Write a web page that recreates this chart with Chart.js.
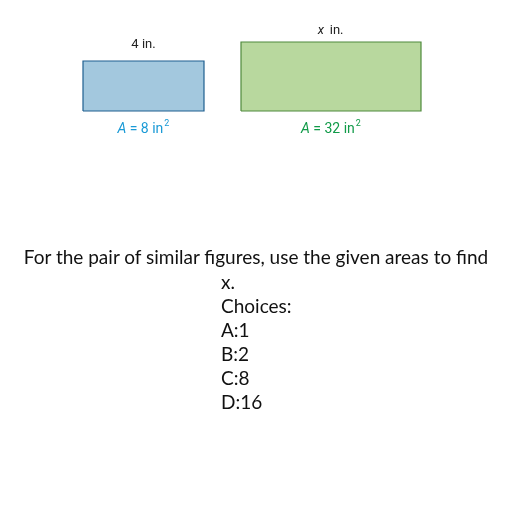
<!DOCTYPE html>
<html>
<head>
<script src="https://cdn.jsdelivr.net/npm/chart.js@4"></script>
<style>
body{margin:0;background:#fff;}
#wrap{position:absolute;left:0;top:0;width:512px;height:512px;}
.q{position:absolute;font-family:Lato,"Noto Sans",sans-serif;font-size:19px;color:#111;white-space:nowrap;}
</style>
</head>
<body>
<div id="wrap"><canvas id="fig" width="512" height="512"></canvas></div>
<div class="q" style="left:0;width:512px;text-align:center;top:245px">For the pair of similar figures, use the given areas to find</div>
<div class="q" style="left:221px;top:270px;line-height:24px">x.<br>Choices:<br>A:1<br>B:2<br>C:8<br>D:16</div>
<script>
// rectangles, in page units
const rectLeft = [83, 241];
const rectWidth = [121, 180];
const rectBottom = [111, 111];
const rectHeight = [50, 69];
const fills = ["#a3c8de", "#b8d89e"];
const strokes = ["#1f5f8f", "#4f8a3c"];
const topLabels = ["4 in.", "x in."];
const areaLabels = ["A = 8 in", "A = 32 in"];
const areaColors = ["#1a9ad6", "#109a48"];

const datasets = rectLeft.map((x, i) => {
  const y0 = rectBottom[i], y1 = rectBottom[i] - rectHeight[i], x1 = x + rectWidth[i];
  return {
    data: [{x: x, y: y0}, {x: x1, y: y0}, {x: x1, y: y1}, {x: x, y: y1}, {x: x, y: y0}],
    showLine: true, fill: "shape", backgroundColor: fills[i], borderColor: strokes[i],
    borderWidth: 1.2, pointRadius: 0, tension: 0
  };
});

const labelPlugin = {
  id: "labels",
  afterDatasetsDraw(chart) {
    const {ctx, scales: {x, y}} = chart;
    ctx.save();
    ctx.textAlign = "center";
    rectLeft.forEach((l, i) => {
      const cx = x.getPixelForValue(l + rectWidth[i] / 2);
      const top = y.getPixelForValue(rectBottom[i] - rectHeight[i]);
      const bot = y.getPixelForValue(rectBottom[i]);
      ctx.fillStyle = "#222";
      if (i === 1) {
        ctx.font = "italic 13px Roboto, sans-serif";
        ctx.fillText("x", cx - 10, top - 8);
        ctx.font = "13px Roboto, sans-serif";
        ctx.fillText(" in.", cx + 4, top - 8);
      } else {
        ctx.font = "13px Roboto, sans-serif";
        ctx.fillText(topLabels[i], cx, top - 13);
      }
      ctx.fillStyle = areaColors[i];
      ctx.font = "14px Roboto, sans-serif";
      const parts = areaLabels[i].split(" = ");
      const w = ctx.measureText(areaLabels[i]).width;
      ctx.textAlign = "left";
      let sx = cx - w / 2 - 3;
      ctx.font = "italic 14px Roboto, sans-serif";
      ctx.fillText(parts[0], sx, bot + 22);
      sx += ctx.measureText(parts[0]).width;
      ctx.font = "14px Roboto, sans-serif";
      ctx.fillText(" = " + parts[1], sx, bot + 22);
      sx += ctx.measureText(" = " + parts[1]).width;
      ctx.font = "9px Roboto, sans-serif";
      ctx.fillText("2", sx + 1, bot + 15);
      ctx.textAlign = "center";
    });
    ctx.restore();
  }
};

new Chart(document.getElementById("fig"), {
  type: "scatter",
  data: {datasets: datasets},
  options: {
    responsive: false, animation: false,
    layout: {padding: 0},
    plugins: {legend: {display: false}, tooltip: {enabled: false}},
    scales: {
      x: {type: "linear", min: 0, max: 512, display: false},
      y: {type: "linear", min: 0, max: 512, reverse: true, display: false}
    }
  },
  plugins: [labelPlugin]
});
</script>
</body>
</html>
